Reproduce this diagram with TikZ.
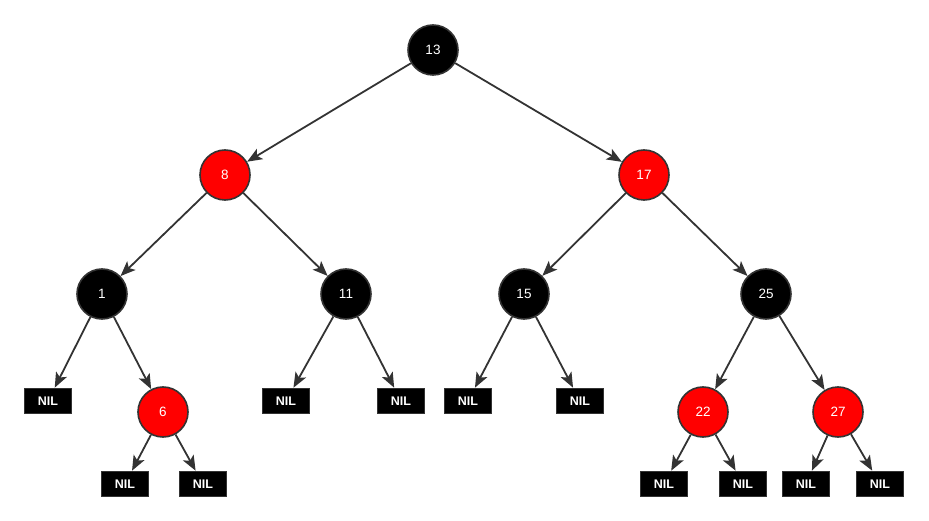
\documentclass[tikz,border=0pt]{standalone}
\usepackage{fontspec}
\setmainfont{Liberation Sans}
\usetikzlibrary{arrows.meta}
\definecolor{edge}{HTML}{333333}
\definecolor{rbred}{HTML}{FF0000}
\tikzset{
  rbnode/.style={circle, draw=edge, line width=1.6pt, minimum size=50pt, inner sep=0pt, text=white, font=\fontsize{13.5}{15}\selectfont},
  blk/.style={rbnode, fill=black},
  rd/.style={rbnode, fill=rbred},
  nil/.style={rectangle, draw=edge, line width=1.6pt, fill=black, minimum width=47pt, minimum height=25pt, inner sep=0pt, text=white, font=\fontsize{12.5}{14}\selectfont\bfseries},
  link/.style={draw=edge, line width=1.8pt, -{Stealth[length=15pt,width=12pt,inset=3.5pt]}}
}
\begin{document}
\begin{tikzpicture}[x=1pt, y=-1pt]
\useasboundingbox (0,0) rectangle (929,521);
\node[blk] (n13) at (433,50) {13};
\node[rd] (n8) at (225,175) {8};
\node[rd] (n17) at (644,175) {17};
\node[blk] (n1) at (102,294) {1};
\node[blk] (n11) at (346,294) {11};
\node[blk] (n15) at (524,294) {15};
\node[blk] (n25) at (766,294) {25};
\node[nil] (l1) at (48,401) {NIL};
\node[rd] (n6) at (163,412) {6};
\node[nil] (l11a) at (286,401) {NIL};
\node[nil] (l11b) at (401,401) {NIL};
\node[nil] (l15a) at (468,401) {NIL};
\node[nil] (l15b) at (580,401) {NIL};
\node[rd] (n22) at (703,412) {22};
\node[rd] (n27) at (838,412) {27};
\node[nil] (l6a) at (125,484) {NIL};
\node[nil] (l6b) at (203,484) {NIL};
\node[nil] (l22a) at (664,484) {NIL};
\node[nil] (l22b) at (743,484) {NIL};
\node[nil] (l27a) at (806,484) {NIL};
\node[nil] (l27b) at (880,484) {NIL};
\draw[link] (n13) -- (n8);
\draw[link] (n13) -- (n17);
\draw[link] (n8) -- (n1);
\draw[link] (n8) -- (n11);
\draw[link] (n17) -- (n15);
\draw[link] (n17) -- (n25);
\draw[link] (n1) -- (l1);
\draw[link] (n1) -- (n6);
\draw[link] (n11) -- (l11a);
\draw[link] (n11) -- (l11b);
\draw[link] (n15) -- (l15a);
\draw[link] (n15) -- (l15b);
\draw[link] (n25) -- (n22);
\draw[link] (n25) -- (n27);
\draw[link] (n6) -- (l6a);
\draw[link] (n6) -- (l6b);
\draw[link] (n22) -- (l22a);
\draw[link] (n22) -- (l22b);
\draw[link] (n27) -- (l27a);
\draw[link] (n27) -- (l27b);
\end{tikzpicture}
\end{document}
